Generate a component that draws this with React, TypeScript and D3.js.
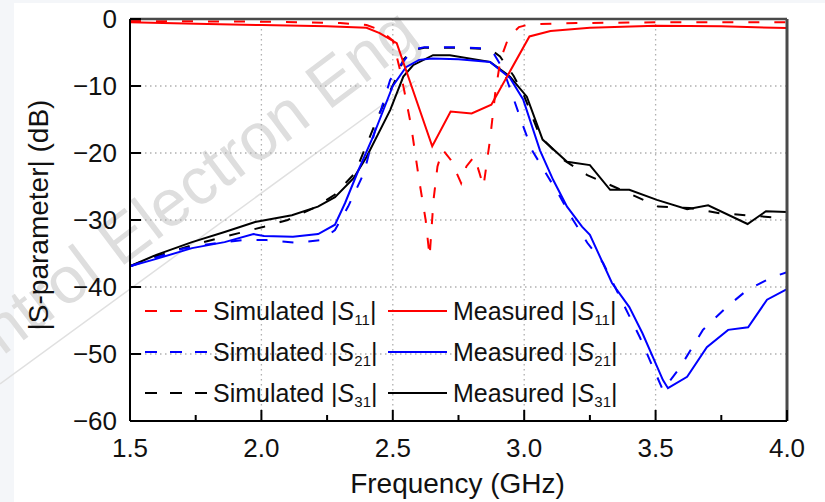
import React, { useEffect, useRef } from 'react';
import * as d3 from 'd3';

// tick values
const xTicks = [1.5, 2.0, 2.5, 3.0, 3.5, 4.0];
const xMinor = [1.75, 2.25, 2.75, 3.25, 3.75];
const yTicks = [0, -10, -20, -30, -40, -50, -60];

// [frequency GHz, dB]
const simS11: [number, number][] = [
  [1.5, -0.3], [2.0, -0.4], [2.3, -0.6], [2.4, -0.9], [2.45, -1.6], [2.5, -3.2],
  [2.53, -8], [2.57, -16], [2.6, -24], [2.625, -30], [2.64, -35.5], [2.655, -27],
  [2.67, -22], [2.69, -19.5], [2.72, -21], [2.76, -24.5], [2.78, -22], [2.81, -20.5],
  [2.83, -23], [2.845, -25], [2.87, -18], [2.89, -11], [2.91, -6], [2.94, -2.8],
  [2.98, -1.2], [3.02, -0.8], [3.2, -0.6], [3.5, -0.5], [4.0, -0.5],
];
const measS11: [number, number][] = [
  [1.5, -0.5], [1.75, -0.7], [2.0, -0.9], [2.25, -1.1], [2.4, -1.3], [2.45, -2.1],
  [2.515, -3.6], [2.65, -19.0], [2.72, -13.8], [2.8, -14.1], [2.875, -12.8],
  [3.02, -2.6], [3.1, -1.8], [3.25, -1.3], [3.5, -1.0], [3.75, -1.1], [4.0, -1.35],
];
const simS21: [number, number][] = [
  [1.5, -36.9], [1.6, -35.6], [1.7, -34.3], [1.8, -33.6], [1.926, -33.0], [2.02, -33.0],
  [2.13, -33.4], [2.23, -33.0], [2.28, -31.5], [2.33, -28], [2.39, -23], [2.44, -15.5],
  [2.49, -9.1], [2.527, -7.0], [2.576, -4.6], [2.62, -4.2], [2.75, -4.2], [2.85, -4.4],
  [2.88, -4.9], [2.92, -7.5], [2.957, -11.6], [2.996, -16], [3.03, -19.6], [3.09, -23.5],
  [3.136, -26.5], [3.186, -30], [3.24, -33.4], [3.3, -36.4], [3.44, -47.5], [3.49, -52],
  [3.528, -55.4], [3.593, -52], [3.68, -46.4], [3.77, -43], [3.85, -40.4], [3.947, -38.5],
  [4.0, -37.8],
];
const measS21: [number, number][] = [
  [1.5, -36.9], [1.6, -35.8], [1.736, -34.2], [1.86, -33.3], [1.97, -32.1], [2.01, -32.4],
  [2.12, -32.5], [2.216, -32.1], [2.28, -30.7], [2.318, -27.5], [2.37, -22.5], [2.42, -18],
  [2.45, -15], [2.5, -10], [2.55, -7.2], [2.6, -6.1], [2.65, -5.9], [2.75, -6.0],
  [2.87, -6.4], [2.946, -8.8], [2.996, -12], [3.06, -19.6], [3.11, -24], [3.163, -28],
  [3.22, -31], [3.25, -32.2], [3.334, -39.4], [3.4, -43], [3.45, -46.9], [3.528, -53.9],
  [3.547, -55.1], [3.62, -53.4], [3.695, -49], [3.776, -46.4], [3.852, -46], [3.924, -41.9],
  [4.0, -40.3],
];
const simS31: [number, number][] = [
  [1.5, -36.9], [1.6, -35.4], [1.75, -33.6], [1.91, -32], [2.01, -31], [2.1, -30],
  [2.2, -28.2], [2.28, -26.2], [2.356, -23], [2.45, -14], [2.516, -8.6], [2.54, -6.1],
  [2.576, -4.6], [2.62, -4.3], [2.75, -4.3], [2.87, -4.5], [2.908, -5.6], [2.96, -8.5],
  [3.0, -11.5], [3.06, -17.5], [3.148, -21], [3.24, -23.3], [3.34, -25], [3.51, -28],
  [3.63, -28.2], [3.745, -29], [3.85, -29.3], [3.947, -29.6], [4.0, -29.7],
];
const measS31: [number, number][] = [
  [1.5, -36.9], [1.6, -35.2], [1.736, -33.3], [1.86, -31.8], [1.976, -30.3], [2.116, -29.3],
  [2.215, -28], [2.28, -26.6], [2.35, -23.8], [2.4, -20.6], [2.49, -13.6], [2.54, -8.6],
  [2.577, -6.9], [2.653, -5.4], [2.717, -5.4], [2.87, -6.4], [2.946, -8.6], [3.01, -11.6],
  [3.07, -18], [3.163, -21.3], [3.25, -21.8], [3.327, -25.5], [3.4, -25.5], [3.505, -27],
  [3.62, -28.4], [3.7, -27.8], [3.85, -30.6], [3.92, -28.7], [4.0, -28.8],
];

const subs = ['11', '21', '31'];
const colors = ['#ff0000', '#0000ff', '#000000'];

const FONT = '"Liberation Sans", Arial, sans-serif';

export default function App() {
  const svgRef = useRef<SVGSVGElement>(null);

  const width = 825;
  const height = 502;
  const margin = { top: 19, right: 38, bottom: 81, left: 130 };
  const innerW = width - margin.left - margin.right;
  const innerH = height - margin.top - margin.bottom;

  useEffect(() => {
    const svg = d3.select(svgRef.current);
    svg.selectAll('*').remove();

    // page background + white panel
    svg.append('rect').attr('width', width).attr('height', height).attr('fill', '#f4f6f9');
    svg.append('rect').attr('x', 14).attr('y', 3).attr('width', width - 14).attr('height', height - 3).attr('fill', '#ffffff');

    // watermark (cut at the left edge, as in the source)
    const wm = svg.append('g').attr('fill', '#dedede').attr('font-family', FONT).attr('font-size', 66);
    wm.append('text')
      .attr('transform', 'translate(120,268) rotate(-37)')
      .text('Electron Eng');
    wm.append('text')
      .attr('transform', 'translate(105,279) rotate(-37)')
      .attr('text-anchor', 'end')
      .text('ntrol');
    svg.append('line')
      .attr('x1', 0).attr('y1', 384).attr('x2', 415).attr('y2', 81)
      .attr('stroke', '#e0e0e0').attr('stroke-width', 1.5);

    const x = d3.scaleLinear().domain([1.5, 4]).range([0, innerW]);
    const y = d3.scaleLinear().domain([-60, 0]).range([innerH, 0]);

    const g = svg.append('g').attr('transform', `translate(${margin.left},${margin.top})`);

    // grid
    g.selectAll('.gx').data(xTicks.slice(1, -1)).enter().append('line')
      .attr('x1', d => x(d)).attr('x2', d => x(d)).attr('y1', 0).attr('y2', innerH)
      .attr('stroke', '#b0b0b0').attr('stroke-width', 1.3).attr('stroke-dasharray', '1.5,3.5');
    g.selectAll('.gy').data(yTicks.slice(1, -1)).enter().append('line')
      .attr('x1', 0).attr('x2', innerW).attr('y1', d => y(d)).attr('y2', d => y(d))
      .attr('stroke', '#b0b0b0').attr('stroke-width', 1.3).attr('stroke-dasharray', '1.5,3.5');

    // curves
    const line = d3.line<[number, number]>().x(d => x(d[0])).y(d => y(d[1]));
    const sims = [simS11, simS21, simS31];
    const meas = [measS11, measS21, measS31];
    [2, 1, 0].forEach(i => {
      g.append('path').datum(sims[i]).attr('d', line).attr('fill', 'none')
        .attr('stroke', colors[i]).attr('stroke-width', 2).attr('stroke-dasharray', '11,15');
      g.append('path').datum(meas[i]).attr('d', line).attr('fill', 'none')
        .attr('stroke', colors[i]).attr('stroke-width', 2);
    });

    // frame
    g.append('line').attr('x1', 0).attr('x2', innerW).attr('y1', 0).attr('y2', 0)
      .attr('stroke', '#4a4a4a').attr('stroke-width', 2.5);
    g.append('line').attr('x1', innerW).attr('x2', innerW).attr('y1', 0).attr('y2', innerH)
      .attr('stroke', '#4a4a4a').attr('stroke-width', 3);
    g.append('line').attr('x1', 0).attr('x2', innerW).attr('y1', innerH).attr('y2', innerH)
      .attr('stroke', '#000').attr('stroke-width', 2);
    g.append('line').attr('x1', 0).attr('x2', 0).attr('y1', 0).attr('y2', innerH)
      .attr('stroke', '#000').attr('stroke-width', 2);

    // ticks
    g.selectAll('.tx').data(xTicks).enter().append('line')
      .attr('x1', d => x(d)).attr('x2', d => x(d)).attr('y1', innerH).attr('y2', innerH - 11)
      .attr('stroke', '#000').attr('stroke-width', 2);
    g.selectAll('.tm').data(xMinor).enter().append('line')
      .attr('x1', d => x(d)).attr('x2', d => x(d)).attr('y1', innerH).attr('y2', innerH - 6)
      .attr('stroke', '#000').attr('stroke-width', 2);
    g.selectAll('.ty').data(yTicks).enter().append('line')
      .attr('x1', 0).attr('x2', 11).attr('y1', d => y(d)).attr('y2', d => y(d))
      .attr('stroke', '#000').attr('stroke-width', 2);

    // tick labels
    g.selectAll('.lx').data(xTicks).enter().append('text')
      .attr('x', d => x(d)).attr('y', innerH + 36)
      .attr('text-anchor', 'middle').attr('font-family', FONT).attr('font-size', 26)
      .attr('fill', '#111').text(d => d.toFixed(1));
    g.selectAll('.ly').data(yTicks).enter().append('text')
      .attr('x', -13).attr('y', d => y(d)).attr('dy', '0.36em')
      .attr('text-anchor', 'end').attr('font-family', FONT).attr('font-size', 26)
      .attr('fill', '#111').text(d => (d < 0 ? '\u2212' + Math.abs(d) : String(d)));

    // axis titles
    g.append('text').attr('x', innerW / 2 - 1).attr('y', innerH + 72)
      .attr('text-anchor', 'middle').attr('font-family', FONT).attr('font-size', 28)
      .attr('fill', '#111').text('Frequency (GHz)');
    g.append('text')
      .attr('transform', `translate(${48 - margin.left},${215 - margin.top}) rotate(-90)`)
      .attr('text-anchor', 'middle').attr('font-family', FONT).attr('font-size', 28)
      .attr('fill', '#111').text('|S-parameter| (dB)');

    // legend
    const rowY = [311, 352, 393];
    const cols = [
      { x0: 145, x1: 208, tx: 213, label: 'Simulated', dash: '11,15' },
      { x0: 388, x1: 447, tx: 453, label: 'Measured', dash: null },
    ];
    const lg = svg.append('g');
    rowY.forEach((ry, i) => {
      cols.forEach(c => {
        const l = lg.append('line').attr('x1', c.x0).attr('x2', c.x1).attr('y1', ry).attr('y2', ry)
          .attr('stroke', colors[i]).attr('stroke-width', 2);
        if (c.dash) l.attr('stroke-dasharray', '12,13');
        const t = lg.append('text').attr('x', c.tx).attr('y', ry + 9)
          .attr('font-family', FONT).attr('font-size', 25).attr('fill', '#111');
        t.append('tspan').text(c.label + ' |');
        t.append('tspan').attr('font-style', 'italic').text('S');
        t.append('tspan').attr('font-size', 15).attr('dy', 5).text(subs[i]);
        t.append('tspan').attr('dy', -5).text('|');
      });
    });
  }, []);

  return (
    <div style={{ position: 'absolute', left: 0, top: 0 }}>
      <svg ref={svgRef} width={width} height={height} style={{ display: 'block' }}></svg>
    </div>
  );
}
